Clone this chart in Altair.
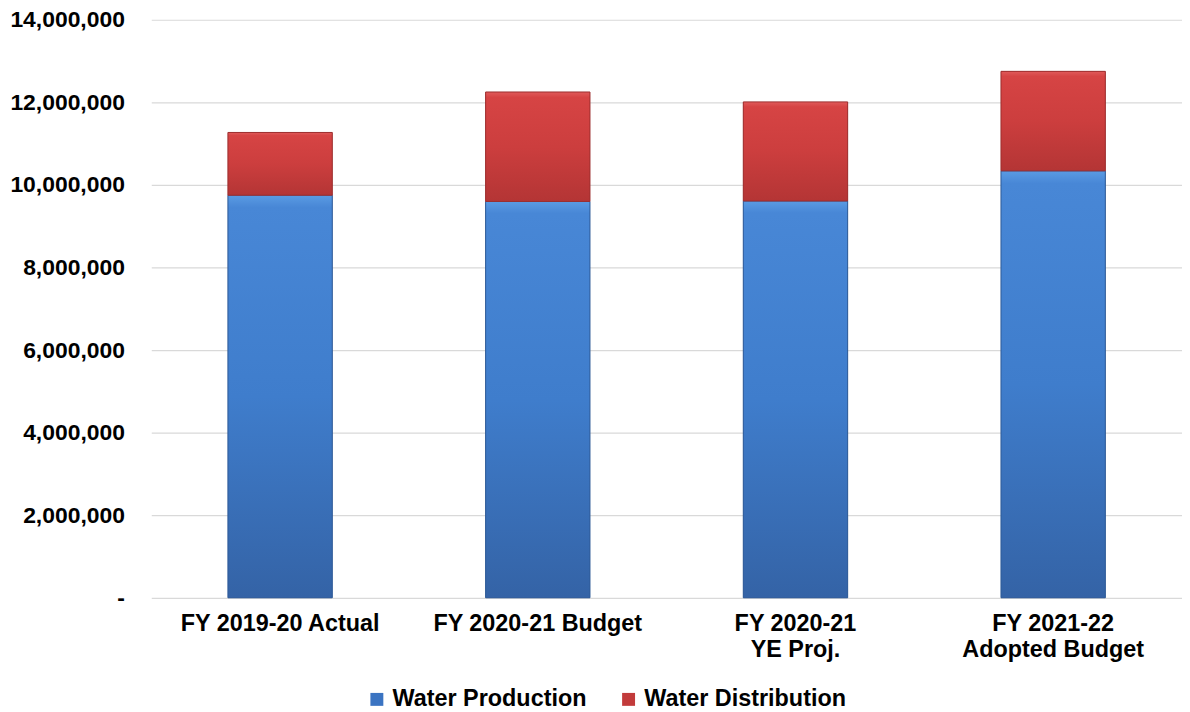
import altair as alt
import pandas as pd

categories = ["FY 2019-20 Actual", "FY 2020-21 Budget", "FY 2020-21|YE Proj.", "FY 2021-22|Adopted Budget"]
series = ["Water Production", "Water Distribution"]
production = [9750000, 9600000, 9610000, 10340000]
distribution = [1520000, 2650000, 2400000, 2410000]

rows = []
for c, p, d in zip(categories, production, distribution):
    rows.append({"cat": c, "series": series[0], "value": p, "order": 0})
    rows.append({"cat": c, "series": series[1], "value": d, "order": 1})
df = pd.DataFrame(rows)

FONT = "Liberation Sans"

blue_grad = alt.Gradient(
    gradient="linear", x1=0, x2=0, y1=0, y2=1,
    stops=[alt.GradientStop(color="#5a9be3", offset=0),
           alt.GradientStop(color="#4887d6", offset=0.03),
           alt.GradientStop(color="#3f7dcc", offset=0.5),
           alt.GradientStop(color="#3463a6", offset=1)])
red_grad = alt.Gradient(
    gradient="linear", x1=0, x2=0, y1=0, y2=1,
    stops=[alt.GradientStop(color="#e05a5a", offset=0),
           alt.GradientStop(color="#d64444", offset=0.05),
           alt.GradientStop(color="#cc3e3e", offset=0.5),
           alt.GradientStop(color="#b43535", offset=1)])

x_enc = alt.X("cat:N", sort=categories,
              scale=alt.Scale(paddingInner=0.595, paddingOuter=0.2975),
              axis=alt.Axis(title=None, labelAngle=0, domain=False, ticks=False,
                            labelExpr="split(datum.label, '|')", labelLimit=400,
                            labelFont=FONT, labelFontSize=23.5, labelFontWeight="bold",
                            labelColor="#000000", labelPadding=14, labelLineHeight=26))
y_scale = alt.Scale(domain=[0, 14000000])

base = alt.Chart(df).transform_stack(
    stack="value", groupby=["cat"], as_=["y0", "y1"],
    sort=[alt.SortField("order", order="ascending")])

legend_layer = base.mark_bar().encode(
    x=x_enc,
    y=alt.Y("y0:Q", scale=y_scale,
            axis=alt.Axis(title=None, values=[0, 2000000, 4000000, 6000000, 8000000, 10000000, 12000000, 14000000],
                          labelExpr="datum.value == 0 ? '-' : format(datum.value, ',')",
                          domain=False, ticks=False, grid=True, gridColor="#d9d9d9", gridWidth=1.2,
                          labelFont=FONT, labelFontSize=23, labelFontWeight="bold", labelLimit=300,
                          labelColor="#000000", labelPadding=27)),
    y2="y1:Q",
    color=alt.Color("series:N", sort=series,
                    scale=alt.Scale(domain=series, range=["#3b74c2", "#c23b3b"]),
                    legend=alt.Legend(title=None, orient="none", direction="horizontal",
                                      legendX=215, legendY=671, labelLimit=400,
                                      symbolType="square", symbolSize=169, symbolStrokeWidth=0,
                                      labelFont=FONT, labelFontSize=23.5, labelFontWeight="bold",
                                      labelColor="#000000", labelOffset=4, columnPadding=30)),
)

blue_layer = base.transform_filter(alt.datum.series == series[0]).mark_bar(
    color=blue_grad, stroke="#2e5a96", strokeWidth=1).encode(
    x=alt.X("cat:N", sort=categories), y=alt.Y("y0:Q"), y2="y1:Q")
red_layer = base.transform_filter(alt.datum.series == series[1]).mark_bar(
    color=red_grad, stroke="#9c2e2e", strokeWidth=1).encode(
    x=alt.X("cat:N", sort=categories), y=alt.Y("y0:Q"), y2="y1:Q")

chart = alt.layer(legend_layer, blue_layer, red_layer).properties(
    width=1036, height=581,
    autosize=alt.AutoSizeParams(type="none"),
    padding={"left": 144, "top": 10, "right": 0, "bottom": 112},
    background="#ffffff",
).configure_view(stroke=None)

chart.save("out.html", embed_options={"renderer": "svg", "actions": False})
